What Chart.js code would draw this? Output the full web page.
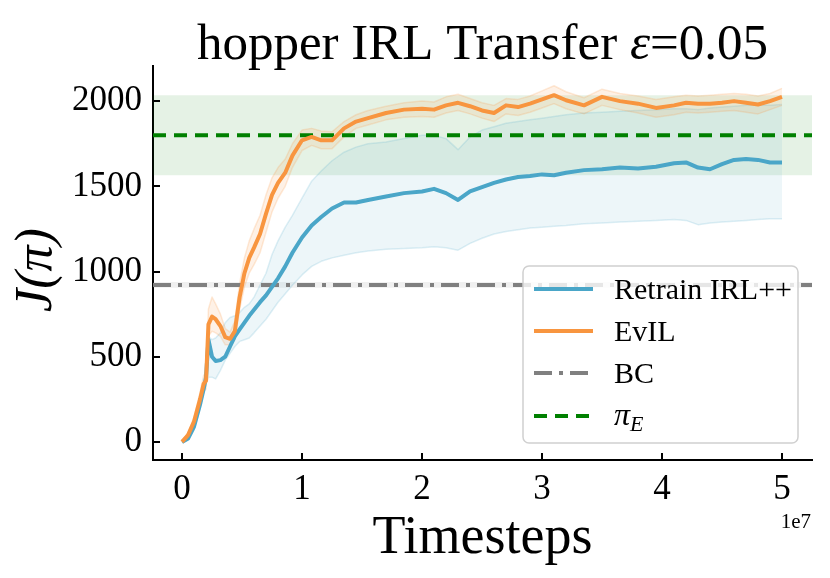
<!DOCTYPE html>
<html>
<head>
<meta charset="utf-8">
<script src="https://cdn.jsdelivr.net/npm/chart.js@4.4.1/dist/chart.umd.min.js"></script>
<style>
  html, body { margin: 0; padding: 0; background: #fff; }
  #wrap { width: 830px; height: 578px; }
</style>
</head>
<body>
<div id="wrap"><canvas id="chart" width="830" height="578"></canvas></div>
<script>
// timesteps, in units of 1e7
const steps = [0, 0.05, 0.1, 0.15, 0.18, 0.2, 0.22, 0.25, 0.28, 0.32, 0.36, 0.4, 0.44, 0.48, 0.52, 0.56,
  0.6, 0.65, 0.7, 0.75, 0.8, 0.86, 0.92, 1.0, 1.08, 1.16, 1.25, 1.35, 1.45, 1.55, 1.7, 1.85,
  2.0, 2.1, 2.2, 2.3, 2.4, 2.5, 2.6, 2.7, 2.8, 2.9, 3.0, 3.1, 3.2, 3.35, 3.5, 3.65, 3.8, 3.95,
  4.1, 4.2, 4.3, 4.4, 4.5, 4.6, 4.7, 4.8, 4.9, 5.0];

const retrainMean = [0, 20, 90, 220, 310, 380, 600, 500, 475, 480, 500, 560, 620, 660, 700, 740,
  775, 820, 860, 910, 960, 1030, 1110, 1200, 1270, 1320, 1370, 1405, 1405, 1420, 1440, 1460,
  1470, 1485, 1460, 1420, 1470, 1495, 1520, 1540, 1555, 1560, 1570, 1565, 1580, 1595, 1600, 1610, 1605, 1615,
  1635, 1640, 1610, 1600, 1630, 1655, 1660, 1655, 1640, 1640];
const retrainHigh = [5, 30, 110, 240, 330, 420, 620, 600, 610, 640, 700, 730, 740, 760, 790, 810,
  850, 920, 990, 1100, 1180, 1260, 1330, 1430, 1530, 1590, 1650, 1700, 1730, 1750, 1760, 1780,
  1800, 1800, 1780, 1715, 1790, 1830, 1850, 1870, 1880, 1890, 1900, 1910, 1920, 1930, 1935, 1940, 1945, 1950,
  1955, 1955, 1950, 1960, 1965, 1970, 1975, 1975, 1975, 1980];
const retrainLow = [0, 10, 70, 200, 290, 340, 380, 380, 370, 420, 480, 520, 560, 590, 600, 610,
  640, 680, 720, 770, 820, 870, 920, 980, 1030, 1060, 1080, 1095, 1110, 1120, 1130, 1135,
  1140, 1145, 1140, 1125, 1165, 1195, 1220, 1235, 1245, 1255, 1260, 1265, 1270, 1280, 1285, 1290, 1295, 1300,
  1305, 1300, 1275, 1285, 1290, 1295, 1300, 1305, 1310, 1310];

const evilMean = [0, 40, 120, 250, 340, 360, 690, 735, 720, 680, 615, 605, 650, 850, 990, 1080,
  1140, 1220, 1340, 1450, 1520, 1580, 1680, 1770, 1790, 1770, 1770, 1840, 1880, 1900, 1930, 1950,
  1955, 1950, 1975, 1990, 1970, 1945, 1930, 1975, 1965, 1985, 2010, 2035, 2005, 1975, 2025, 2000, 1985, 1960,
  1975, 1990, 1985, 1985, 1990, 2000, 1990, 1980, 2000, 2025];
const evilHigh = [5, 55, 145, 290, 390, 410, 780, 850, 810, 750, 665, 645, 710, 930, 1080, 1180,
  1250, 1330, 1450, 1550, 1610, 1660, 1750, 1830, 1840, 1825, 1820, 1880, 1920, 1945, 1970, 1990,
  2000, 1995, 2025, 2040, 2015, 1990, 1975, 2015, 2010, 2030, 2060, 2090, 2055, 2020, 2070, 2045, 2030, 2010,
  2025, 2035, 2030, 2035, 2040, 2045, 2040, 2030, 2045, 2075];
const evilLow = [-5, 25, 95, 210, 290, 310, 620, 650, 640, 620, 570, 570, 600, 780, 910, 990,
  1040, 1110, 1230, 1350, 1430, 1500, 1610, 1710, 1740, 1720, 1720, 1790, 1840, 1860, 1890, 1905,
  1910, 1905, 1930, 1945, 1925, 1900, 1880, 1925, 1915, 1935, 1960, 1985, 1955, 1925, 1975, 1950, 1930, 1905,
  1920, 1935, 1930, 1935, 1940, 1945, 1935, 1925, 1950, 1975];

// reference levels
const bcScore = 921;
const bcBand = [905, 938];
const expertScore = 1800;
const expertBand = [1565, 2035];

const xTicks = [0, 1, 2, 3, 4, 5];
const yTicks = [0, 500, 1000, 1500, 2000];

const xMin = -0.242, xMax = 5.25;
const yMin = -106, yMax = 2206;

const BLUE = '#4aa6c8';
const ORANGE = '#f8953f';
const GREEN = '#008000';
const GRAY = '#808080';
const SERIF = '"Liberation Serif", "DejaVu Serif", serif';
const BC_DASH = [18, 7, 4, 7];
const PI_DASH = [13, 8];

const pts = vals => steps.map((s, i) => ({ x: s, y: vals[i] }));
const flat = v => [{ x: xMin, y: v }, { x: xMax, y: v }];

const base = { pointRadius: 0, tension: 0, borderJoinStyle: 'round' };

const datasets = [
  { ...base, label: 'expertLow', data: flat(expertBand[0]), borderWidth: 0, fill: false, order: 20 },
  { ...base, label: 'expertHigh', data: flat(expertBand[1]), borderWidth: 0, fill: '-1', backgroundColor: 'rgba(0,128,0,0.1)', order: 19 },
  { ...base, label: 'bcLow', data: flat(bcBand[0]), borderWidth: 0, fill: false, order: 18 },
  { ...base, label: 'bcHigh', data: flat(bcBand[1]), borderWidth: 0, fill: '-1', backgroundColor: 'rgba(128,128,128,0.12)', order: 17 },
  { ...base, label: 'retrainLow', data: pts(retrainLow), borderWidth: 1.5, borderColor: 'rgba(74,166,200,0.18)', fill: false, order: 16 },
  { ...base, label: 'retrainHigh', data: pts(retrainHigh), borderWidth: 1.5, borderColor: 'rgba(74,166,200,0.18)', fill: '-1', backgroundColor: 'rgba(74,166,200,0.1)', order: 15 },
  { ...base, label: 'evilLow', data: pts(evilLow), borderWidth: 1.5, borderColor: 'rgba(248,149,63,0.2)', fill: false, order: 14 },
  { ...base, label: 'evilHigh', data: pts(evilHigh), borderWidth: 1.5, borderColor: 'rgba(248,149,63,0.2)', fill: '-1', backgroundColor: 'rgba(248,149,63,0.13)', order: 13 },
  { ...base, label: 'BC', data: flat(bcScore), borderWidth: 4, borderColor: GRAY, borderDash: BC_DASH, fill: false, order: 4 },
  { ...base, label: 'piE', data: flat(expertScore), borderWidth: 4, borderColor: GREEN, borderDash: PI_DASH, fill: false, order: 3 },
  { ...base, label: 'Retrain IRL++', data: pts(retrainMean), borderWidth: 4, borderColor: BLUE, fill: false, order: 2 },
  { ...base, label: 'EvIL', data: pts(evilMean), borderWidth: 4, borderColor: ORANGE, fill: false, order: 1 }
];

// title, axis labels, inward ticks, legend
const decor = {
  id: 'decor',
  afterDraw(chart) {
    const ctx = chart.ctx;
    const area = chart.chartArea;
    const xs = chart.scales.x, ys = chart.scales.y;
    ctx.save();

    // inward tick marks
    ctx.strokeStyle = '#000';
    ctx.lineWidth = 2;
    ctx.beginPath();
    xs.ticks.forEach(t => {
      const px = Math.round(xs.getPixelForValue(t.value));
      ctx.moveTo(px, area.bottom);
      ctx.lineTo(px, area.bottom - 7);
    });
    ys.ticks.forEach(t => {
      const py = Math.round(ys.getPixelForValue(t.value));
      ctx.moveTo(area.left, py);
      ctx.lineTo(area.left + 7, py);
    });
    ctx.stroke();

    ctx.fillStyle = '#000';
    ctx.textBaseline = 'alphabetic';

    // title with italic epsilon
    const cx = (area.left + area.right) / 2;
    const t1 = 'hopper IRL Transfer ', t2 = '\u03B5', t3 = '=0.05';
    const fN = '51px ' + SERIF, fI = 'italic 51px ' + SERIF;
    ctx.font = fN; const w1 = ctx.measureText(t1).width, w3 = ctx.measureText(t3).width;
    ctx.font = fI; const w2 = ctx.measureText(t2).width;
    let tx = cx - (w1 + w2 + w3) / 2;
    ctx.textAlign = 'left';
    ctx.font = fN; ctx.fillText(t1, tx, 59); tx += w1;
    ctx.font = fI; ctx.fillText(t2, tx, 59); tx += w2;
    ctx.font = fN; ctx.fillText(t3, tx, 59);

    // x label and offset
    ctx.textAlign = 'center';
    ctx.font = '54px ' + SERIF;
    ctx.fillText('Timesteps', cx, 553);
    ctx.textAlign = 'right';
    ctx.font = '21px ' + SERIF;
    ctx.fillText('1e7', 811, 528);

    // y label
    ctx.save();
    ctx.translate(37, 270);
    ctx.rotate(-Math.PI / 2);
    ctx.textAlign = 'center';
    ctx.textBaseline = 'middle';
    ctx.font = 'italic 52px ' + SERIF;
    ctx.fillText('J(\u03C0)', 0, 0);
    ctx.restore();

    // legend
    const lx = 523, ly = 266, lw = 275, lh = 177;
    ctx.beginPath();
    ctx.roundRect(lx, ly, lw, lh, 6);
    ctx.fillStyle = 'rgba(255,255,255,0.8)';
    ctx.fill();
    ctx.strokeStyle = '#d0d0d0';
    ctx.lineWidth = 1.5;
    ctx.stroke();

    const entries = [
      { text: 'Retrain IRL++', color: BLUE, dash: [], y: 289 },
      { text: 'EvIL', color: ORANGE, dash: [], y: 331 },
      { text: 'BC', color: GRAY, dash: BC_DASH, y: 373 },
      { text: 'pi', color: GREEN, dash: PI_DASH, y: 416 }
    ];
    entries.forEach(e => {
      ctx.beginPath();
      ctx.setLineDash(e.dash);
      ctx.strokeStyle = e.color;
      ctx.lineWidth = 4;
      ctx.moveTo(534, e.y);
      ctx.lineTo(593, e.y);
      ctx.stroke();
      ctx.setLineDash([]);
      ctx.fillStyle = '#000';
      ctx.textAlign = 'left';
      if (e.text === 'pi') {
        ctx.font = 'italic 32px ' + SERIF;
        ctx.fillText('\u03C0', 614, e.y + 9);
        const pw = ctx.measureText('\u03C0').width;
        ctx.font = 'italic 22px ' + SERIF;
        ctx.fillText('E', 614 + pw, e.y + 15);
      } else {
        ctx.font = '30px ' + SERIF;
        ctx.fillText(e.text, 614, e.y + 10);
      }
    });

    ctx.restore();
  }
};

new Chart(document.getElementById('chart'), {
  type: 'line',
  data: { datasets },
  options: {
    responsive: false,
    animation: false,
    layout: { padding: { top: 66, right: 18, left: 0, bottom: 0 } },
    plugins: {
      legend: { display: false },
      tooltip: { enabled: false },
      title: { display: false }
    },
    scales: {
      x: {
        type: 'linear',
        min: xMin,
        max: xMax,
        afterBuildTicks: s => { s.ticks = xTicks.map(v => ({ value: v })); },
        afterFit: s => { s.height = 118; },
        grid: { display: false, drawTicks: false },
        border: { display: true, color: '#000', width: 2 },
        ticks: { color: '#000', padding: 9, font: { family: SERIF, size: 35 }, callback: v => String(v) }
      },
      y: {
        type: 'linear',
        min: yMin,
        max: yMax,
        afterBuildTicks: s => { s.ticks = yTicks.map(v => ({ value: v })); },
        afterFit: s => { s.width = 153; },
        grid: { display: false, drawTicks: false },
        border: { display: true, color: '#000', width: 2 },
        ticks: { color: '#000', padding: 11, font: { family: SERIF, size: 35 }, callback: v => String(v) }
      }
    }
  },
  plugins: [decor]
});
</script>
</body>
</html>
